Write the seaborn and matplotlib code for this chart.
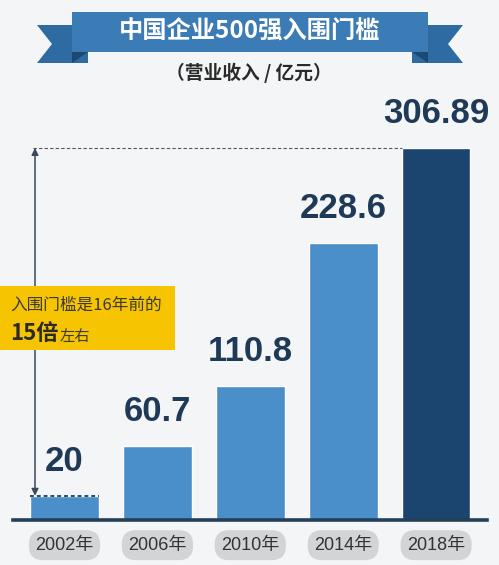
import matplotlib
matplotlib.use("Agg")
import matplotlib.pyplot as plt
import seaborn as sns
import numpy as np
import pandas as pd
from matplotlib.patches import Polygon, Rectangle

# ---- data ----
years = ["2002年", "2006年", "2010年", "2014年", "2018年"]
values = [20, 60.7, 110.8, 228.6, 306.89]
value_labels = ["20", "60.7", "110.8", "228.6", "306.89"]
bar_colors = ["#4a8fca", "#4a8fca", "#4a8fca", "#4a8fca", "#1b446e"]
title = "中国企业500强入围门槛"
subtitle = "（营业收入 / 亿元）"
note_line1 = "入围门槛是16年前的"
note_big = "15倍"
note_small = "左右"

BG = "#f4f5f7"
DARK = "#1f3a56"
CJK = ["Noto Sans CJK SC", "DejaVu Sans"]
NUM = ["Liberation Sans", "Noto Sans CJK SC"]

sns.set_theme(style="white")
plt.rcParams["font.family"] = CJK

W, H = 499, 565
fig = plt.figure(figsize=(W / 100, H / 100), dpi=100)
fig.patch.set_facecolor(BG)

# main axes in pixel layout: baseline at y=520 (from top), x from 13 to 487
ax_left, ax_right = 13, 487
ax_top, ax_bottom = 95, 520
ax = fig.add_axes([ax_left / W, 1 - ax_bottom / H, (ax_right - ax_left) / W, (ax_bottom - ax_top) / H])
ax.set_facecolor("none")

df = pd.DataFrame({"year": years, "value": values})
sns.barplot(data=df, x="year", y="value", hue="year", palette=bar_colors,
            width=0.74, legend=False, ax=ax, saturation=1)

px_per_unit = (ax_bottom - 148) / values[-1]
ax.set_ylim(0, (ax_bottom - ax_top) / px_per_unit)
xc0, dx = 64.5, 92.9
ax.set_xlim((ax_left - xc0) / dx, (ax_right - xc0) / dx)

for s in ["top", "right", "left"]:
    ax.spines[s].set_visible(False)
ax.spines["bottom"].set_color("#243f58")
ax.spines["bottom"].set_linewidth(2.6)
ax.set_yticks([])
ax.set_xlabel("")
ax.set_ylabel("")
ax.set_xticks(range(len(years)))
ax.set_xticklabels(years, family=NUM, fontsize=13, color="#333333")
ax.tick_params(axis="x", length=0, pad=12)
for lbl in ax.get_xticklabels():
    lbl.set_bbox(dict(boxstyle="round,pad=0.36,rounding_size=0.8", fc="#d3d4d6", ec="none"))

# value labels
for i, (v, t) in enumerate(zip(values, value_labels)):
    ax.annotate(t, (i, v), xytext=(0, 13), textcoords="offset points",
                ha="center", va="bottom", fontsize=25, fontweight="bold",
                family=NUM, color=DARK)

# dashed reference line at max value
x_arrow = (35 - xc0) / dx
ax.hlines(values[-1], x_arrow - 0.02, len(values) - 1 - 0.37, colors="#555555",
          linestyles=(0, (3, 2)), linewidth=0.8, zorder=1)
# dotted top on first bar
ax.hlines(values[0], -0.37, 0.37, colors="#2a4a66", linestyles=(0, (2, 1.5)),
          linewidth=1.4, zorder=4)
# double arrow
ax.annotate("", xy=(x_arrow, values[-1]), xytext=(x_arrow, values[0]),
            arrowprops=dict(arrowstyle="<|-|>", color="#3a4a58", lw=1.1,
                            mutation_scale=10, shrinkA=0, shrinkB=0), zorder=2)

# decoration overlay in pixel coordinates
ov = fig.add_axes([0, 0, 1, 1], zorder=5)
ov.set_xlim(0, W)
ov.set_ylim(H, 0)
ov.axis("off")
ov.patch.set_alpha(0)

# ribbon tails
ov.add_patch(Polygon([(412, 25), (463, 25), (448, 44), (463, 63), (412, 63)], closed=True,
                     fc="#2e6ba3", ec="none"))
ov.add_patch(Polygon([(88, 25), (37, 25), (52, 44), (37, 63), (88, 63)], closed=True,
                     fc="#2e6ba3", ec="none"))
ov.add_patch(Polygon([(412, 52), (428, 52), (428, 63)], closed=True, fc="#1c4872", ec="none"))
ov.add_patch(Polygon([(88, 52), (72, 52), (72, 63)], closed=True, fc="#1c4872", ec="none"))
# main banner
ov.add_patch(Rectangle((72, 12), 356, 40, fc="#3b7bb6", ec="none"))
ov.text(250, 32, title, ha="center", va="center", color="white", fontsize=17.5,
        fontweight="bold", family=CJK)
ov.text(249, 73, subtitle, ha="center", va="center", color="#2a2a2a", fontsize=13.5,
        fontweight="bold", family=CJK)

# yellow note box
ov.add_patch(Rectangle((0, 286), 175, 64, fc="#f6c400", ec="none"))
ov.text(10, 305, note_line1, ha="left", va="center", color="#3a3a3a", fontsize=12, family=CJK)
t_big = ov.text(10, 334, note_big, ha="left", va="center", color="#2a2a2a", fontsize=16,
                fontweight="bold", family=CJK)
fig.canvas.draw()
bb = t_big.get_window_extent()
x_end = ov.transData.inverted().transform((bb.x1, bb.y0))[0]
ov.text(x_end + 1, 336, note_small, ha="left", va="center", color="#3a3a3a", fontsize=11, family=CJK)

fig.savefig("out.png", dpi=100, facecolor=BG)
